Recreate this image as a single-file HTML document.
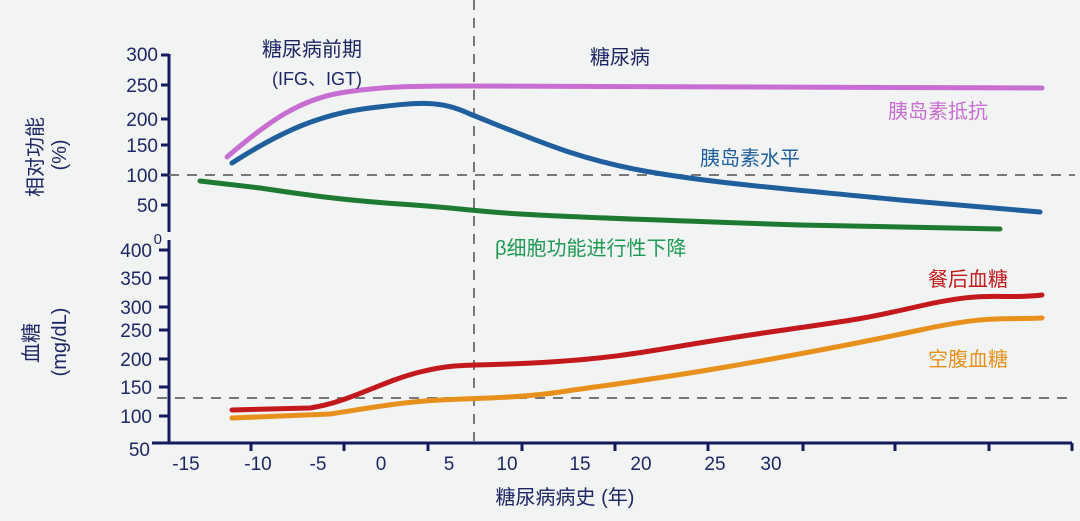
<!DOCTYPE html>
<html><head><meta charset="utf-8"><style>
html,body{margin:0;padding:0;background:#f2f3f3;}
svg{display:block;}
text{font-family:"Liberation Sans","Noto Sans CJK SC",sans-serif;}
</style></head><body>
<svg width="1080" height="521" viewBox="0 0 1080 521" xmlns="http://www.w3.org/2000/svg">
<rect width="1080" height="521" fill="#f2f3f3"/>
<g fill="#1e2766" font-size="19" text-anchor="end">
<text x="158" y="61">300</text><text x="158" y="92">250</text><text x="158" y="126">200</text>
<text x="158" y="152">150</text><text x="158" y="182">100</text><text x="158" y="212">50</text>
<text x="162" y="244" font-size="15">0</text>
<text x="152" y="257">400</text><text x="152" y="285">350</text><text x="152" y="314">300</text>
<text x="152" y="337">250</text><text x="152" y="366">200</text><text x="152" y="394">150</text>
<text x="152" y="423">100</text><text x="150" y="456">50</text>
</g>
<g stroke="#141a5e" stroke-width="3" fill="none">
<path d="M169 54V232M161 55H169M161 85H169M161 119H169M161 145H169M161 175H169M161 205H169"/>
<path d="M169 240V443M159 250H169M159 278H169M159 307H169M159 330H169M159 359H169M159 387H169M159 416H169"/>
<path d="M152 443H1072M251 443v8M344 443v8M428 443v8M522 443v8M615 443v8M708 443v8M803 443v8M895 443v8M989 443v8M1072 443v8"/>
</g>
<g stroke="#777" stroke-width="2" stroke-dasharray="10,8" fill="none">
<path d="M169 175H1075"/><path d="M157 398H1075"/><path d="M474 0V443"/>
</g>
<g fill="none" stroke-width="5" stroke-linecap="round">
<path stroke="#c86ed2" d="M227 157C270 120 300 100 340 93S420 86 470 86L1042 88"/>
<path stroke="#1f5f9e" d="M232 163C280 132 320 114 370 108S440 100 470 114C540 142 580 160 650 172S800 190 900 200L1040 212"/>
<path stroke="#1e7a32" d="M200 181L260 188C300 194 340 200 400 204S470 211 520 214 650 220 800 225L1000 229"/>
<path stroke="#c4191c" d="M232 410L310 408C350 402 380 382 420 372S470 367 550 362 650 350 750 335 850 322 920 306 1000 300 1042 295"/>
<path stroke="#e8901c" d="M232 418L330 414C370 408 400 402 440 400S520 398 560 392 650 380 720 368 850 345 920 330 1000 320 1042 318"/>
</g>
<g font-size="20">
<text x="262" y="56" fill="#1e2766">糖尿病前期</text>
<text x="272" y="85" fill="#1e2766" font-size="18">(IFG、IGT)</text>
<text x="590" y="64" fill="#1e2766">糖尿病</text>
<text x="888" y="118" fill="#c86ed2">胰岛素抵抗</text>
<text x="700" y="165" fill="#1f5f9e">胰岛素水平</text>
<text x="495" y="255" fill="#1e9a55">β细胞功能进行性下降</text>
<text x="928" y="286" fill="#c4191c">餐后血糖</text>
<text x="928" y="366" fill="#e8901c">空腹血糖</text>
<text x="565" y="504" fill="#1e2766" text-anchor="middle">糖尿病病史 (年)</text>
</g>
<g fill="#1e2766" font-size="19" text-anchor="middle">
<text x="186" y="470">-15</text><text x="258" y="470">-10</text><text x="318" y="470">-5</text>
<text x="381" y="470">0</text><text x="449" y="470">5</text><text x="507" y="470">10</text>
<text x="580" y="470">15</text><text x="641" y="470">20</text><text x="715" y="470">25</text><text x="771" y="470">30</text>
</g>
<g fill="#1e2766" font-size="20" text-anchor="middle">
<text transform="translate(42,157) rotate(-90)">相对功能</text>
<text transform="translate(66,155) rotate(-90)">(%)</text>
<text transform="translate(38,343) rotate(-90)">血糖</text>
<text transform="translate(66,342) rotate(-90)">(mg/dL)</text>
</g>
</svg>
</body></html>
